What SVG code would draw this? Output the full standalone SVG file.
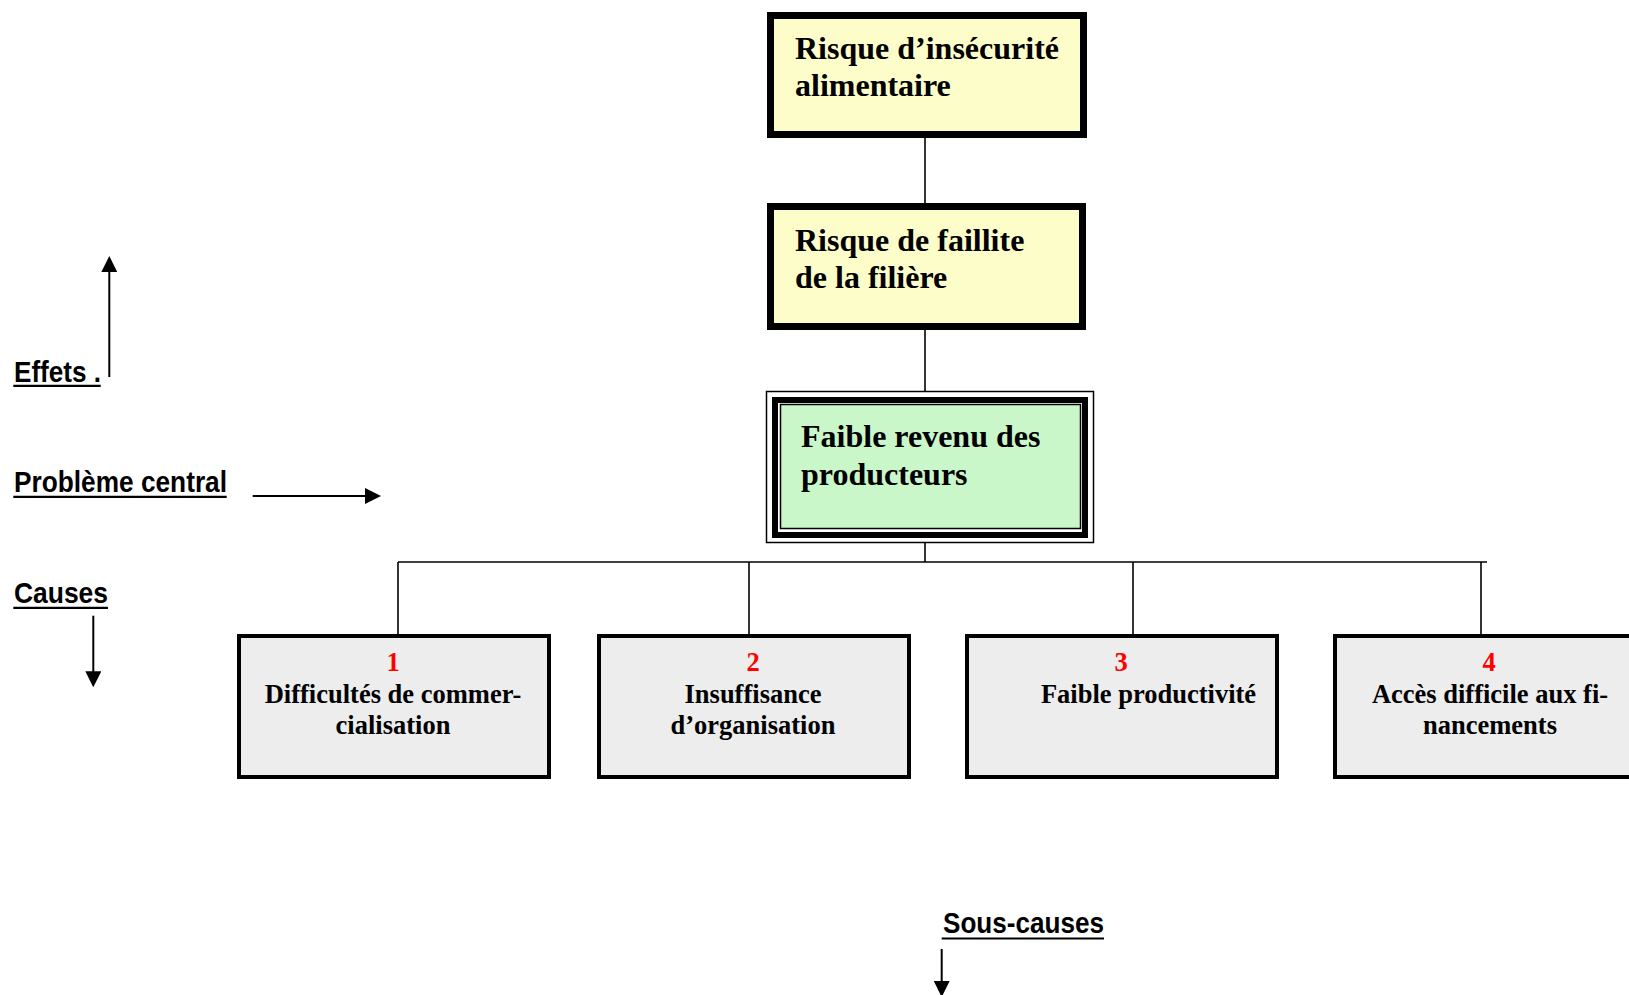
<svg xmlns="http://www.w3.org/2000/svg" width="1629" height="995" viewBox="0 0 1629 995">
<style>
.conn{stroke:#000;stroke-width:1.6;fill:none}
.arrow{stroke:#000;stroke-width:2;fill:none}
.ul{stroke:#000;stroke-width:2.2}
.lbl{font-family:"Liberation Sans",Arial,sans-serif;font-weight:bold;font-size:30px;fill:#000}
.big{font-family:"Liberation Serif","Times New Roman",serif;font-weight:bold;font-size:32px;fill:#000}
.cause{font-family:"Liberation Serif","Times New Roman",serif;font-weight:bold;font-size:26.5px;fill:#000;text-anchor:middle}
.num{fill:#ff0000}
.eff{fill:#fdfdc9;stroke:#000;stroke-width:7}
.cbox{fill:#ededed;stroke:#000;stroke-width:4}
</style>
<defs>
<marker id="ah" viewBox="0 0 16 16" refX="6" refY="8" markerWidth="16" markerHeight="16" markerUnits="userSpaceOnUse" orient="auto">
<path d="M0,0 L16,8 L0,16 z" fill="#000"/>
</marker>
</defs>
<rect x="0" y="0" width="1629" height="995" fill="#fff"/>

<g id="connectors">
<line class="conn" x1="925" y1="138" x2="925" y2="206"/>
<line class="conn" x1="925" y1="330" x2="925" y2="400"/>
<line class="conn" x1="925" y1="538" x2="925" y2="562"/>
<line class="conn" x1="398" y1="562" x2="1487" y2="562"/>
<line class="conn" x1="398" y1="562" x2="398" y2="634"/>
<line class="conn" x1="749" y1="562" x2="749" y2="634"/>
<line class="conn" x1="1133" y1="562" x2="1133" y2="634"/>
<line class="conn" x1="1481" y1="562" x2="1481" y2="634"/>
</g>

<g id="legend-effets">
<text class="lbl" x="14" y="381.5" textLength="87" lengthAdjust="spacingAndGlyphs">Effets .</text>
<line class="ul" x1="13.3" y1="385.8" x2="100.7" y2="385.8"/>
<line class="arrow" x1="109.3" y1="377" x2="109.3" y2="266" marker-end="url(#ah)"/>
</g>
<g id="legend-probleme">
<text class="lbl" x="14" y="491.5" textLength="213" lengthAdjust="spacingAndGlyphs">Problème central</text>
<line class="ul" x1="13.3" y1="496.8" x2="226.7" y2="496.8"/>
<line class="arrow" x1="252.7" y1="496" x2="371" y2="496" marker-end="url(#ah)"/>
</g>
<g id="legend-causes">
<text class="lbl" x="14" y="602.5" textLength="94" lengthAdjust="spacingAndGlyphs">Causes</text>
<line class="ul" x1="13.3" y1="607.8" x2="108" y2="607.8"/>
<line class="arrow" x1="93.3" y1="615.7" x2="93.3" y2="677.3" marker-end="url(#ah)"/>
</g>
<g id="legend-souscauses">
<text class="lbl" x="943" y="932.5" textLength="161" lengthAdjust="spacingAndGlyphs">Sous-causes</text>
<line class="ul" x1="941.7" y1="938.5" x2="1104" y2="938.5"/>
<line class="arrow" x1="941.7" y1="949" x2="941.7" y2="987" marker-end="url(#ah)"/>
</g>

<g id="effet-insecurite">
<rect class="eff" x="770.5" y="15.5" width="313" height="119"/>
<text class="big" x="795" y="59">Risque d’insécurité</text>
<text class="big" x="795" y="96">alimentaire</text>
</g>

<g id="effet-faillite">
<rect class="eff" x="770.5" y="206.5" width="312" height="120"/>
<text class="big" x="795" y="251">Risque de faillite</text>
<text class="big" x="795" y="288">de la filière</text>
</g>

<g id="probleme-central">
<rect x="766.5" y="391.5" width="327" height="151" fill="#fff" stroke="#000" stroke-width="1.5"/>
<rect x="775" y="400" width="310" height="135" fill="#fff" stroke="#000" stroke-width="6"/>
<rect x="780.5" y="404.5" width="300" height="124" fill="#c9f7c9" stroke="#000" stroke-width="1.5"/>
<text class="big" x="801" y="447">Faible revenu des</text>
<text class="big" x="801" y="485">producteurs</text>
</g>

<g id="cause-1">
<rect class="cbox" x="239" y="636" width="310" height="141"/>
<text class="cause num" x="393" y="670.5">1</text>
<text class="cause" x="393" y="702.5">Difficultés de commer-</text>
<text class="cause" x="393" y="733.5">cialisation</text>
</g>

<g id="cause-2">
<rect class="cbox" x="599" y="636" width="310" height="141"/>
<text class="cause num" x="753" y="670.5">2</text>
<text class="cause" x="753" y="702.5">Insuffisance</text>
<text class="cause" x="753" y="733.5">d’organisation</text>
</g>

<g id="cause-3">
<rect class="cbox" x="967" y="636" width="310" height="141"/>
<text class="cause num" x="1121" y="670.5">3</text>
<text class="cause" x="1148.5" y="702.5">Faible productivité</text>
</g>

<g id="cause-4">
<rect class="cbox" x="1335" y="636" width="310" height="141"/>
<text class="cause num" x="1489" y="670.5">4</text>
<text class="cause" x="1490" y="702.5">Accès difficile aux fi-</text>
<text class="cause" x="1490" y="733.5">nancements</text>
</g>
</svg>
